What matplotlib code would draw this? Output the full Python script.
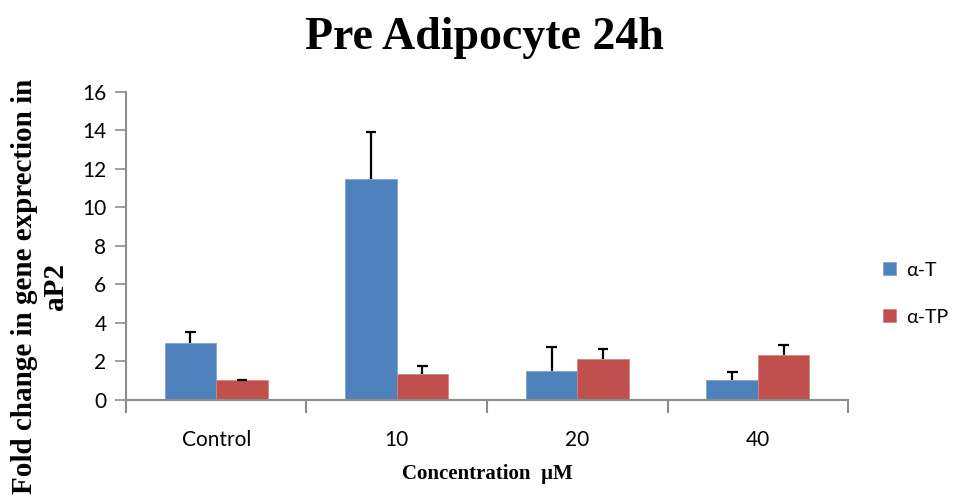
import matplotlib
matplotlib.use("Agg")
import matplotlib.pyplot as plt
import numpy as np

categories = ["Control", "10", "20", "40"]
series_names = ["α-T", "α-TP"]
alpha_t = [2.97, 11.45, 1.50, 1.02]
alpha_t_err = [0.57, 2.44, 1.27, 0.45]
alpha_tp = [1.02, 1.33, 2.11, 2.32]
alpha_tp_err = [0.03, 0.45, 0.55, 0.55]
colors = ["#4F81BD", "#C0504D"]
edge_colors = ["#7FA3D0", "#D58482"]

fig = plt.figure(figsize=(9.54, 5.0), dpi=100)
ax = fig.add_axes([0.132, 0.2, 0.757, 0.6166])

x = np.arange(len(categories))
w = 0.285
cap = 0.03
offsets = [-w / 2, w / 2]
for vals, errs, off, col, ecol, name in zip([alpha_t, alpha_tp], [alpha_t_err, alpha_tp_err],
                                            offsets, colors, edge_colors, series_names):
    pos = x + off
    vals = np.asarray(vals)
    tops = vals + np.asarray(errs)
    ax.bar(pos, vals, w, color=col, edgecolor=ecol, linewidth=0.6, label=name, zorder=2)
    # positive-only error bars with a single cap
    ax.vlines(pos, vals, tops, colors="black", linewidth=1.6, zorder=3)
    ax.hlines(tops, pos - cap, pos + cap, colors="black", linewidth=1.6, zorder=3)

ax.set_xlim(-0.5, len(categories) - 0.5)
ax.set_ylim(0, 16)
ax.set_yticks(np.arange(0, 17, 2))

ax.set_xticks(x)
ax.set_xticklabels(categories)
ax.set_xticks(np.arange(-0.5, len(categories)), minor=True)
ax.tick_params(axis="x", which="major", length=0, pad=21.5)
ax.tick_params(axis="x", which="minor", length=9, width=1.5, color="#8C8C8C")
ax.tick_params(axis="y", length=8, width=1.2, color="#8C8C8C", pad=6)

for s in ["top", "right"]:
    ax.spines[s].set_visible(False)
for s in ["left", "bottom"]:
    ax.spines[s].set_color("#8C8C8C")
    ax.spines[s].set_linewidth(1.5)

tick_font = "Lato"
for lab in ax.get_xticklabels() + ax.get_yticklabels():
    lab.set_fontfamily(tick_font)
    lab.set_fontsize(15)

fig.text(0.508, 0.902, "Pre Adipocyte 24h", ha="center", va="baseline",
         fontfamily="Liberation Serif", fontweight="bold", fontsize=33)
ax.set_xlabel("Concentration  µM", fontfamily="Liberation Serif", fontweight="bold",
              fontsize=15, labelpad=10)
fig.text(0.042, 0.428, "Fold change in gene exprection in\naP2", rotation=90,
         ha="center", va="center", multialignment="center",
         fontfamily="Liberation Serif", fontweight="bold", fontsize=21, linespacing=1.15)

leg = fig.legend(loc="upper left", bbox_to_anchor=(0.926, 0.477), frameon=False,
                 borderpad=0, borderaxespad=0,
                 prop={"family": tick_font, "size": 14}, handlelength=0.66,
                 handleheight=0.66, handletextpad=0.5, labelspacing=1.55)

fig.savefig("out.png", dpi=100)
